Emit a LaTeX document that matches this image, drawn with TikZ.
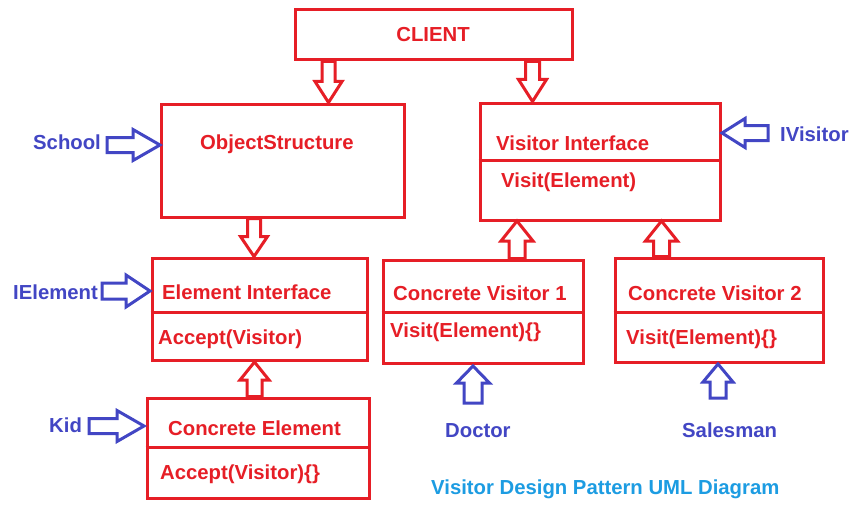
\documentclass[tikz,border=0pt]{standalone}
\usepackage{fontspec}
\setmainfont{Liberation Sans}
\usetikzlibrary{calc}
\definecolor{redc}{RGB}{230,30,38}
\definecolor{bluec}{RGB}{66,70,196}
\definecolor{capc}{RGB}{28,156,226}
\newcommand\blockarrow[6]{%
  \coordinate (ba-h) at ($(#3)!#6pt!(#2)$);
  \draw[#1] ($(#2)!#4pt!90:(#3)$) -- ($(ba-h)!#4pt!90:(#3)$) -- ($(ba-h)!#5pt!90:(#3)$) -- (#3)
    -- ($(ba-h)!#5pt!-90:(#3)$) -- ($(ba-h)!#4pt!-90:(#3)$) -- ($(#2)!#4pt!-90:(#3)$) -- cycle;
}
\begin{document}
\begin{tikzpicture}[x=1pt,y=-1pt,
  box/.style={draw=redc, line width=3pt, rectangle, inner sep=0pt},
  divline/.style={draw=redc, line width=3pt},
  ttl/.style={text=redc, font=\fontsize{20.3}{24}\selectfont\bfseries, inner sep=0pt, anchor=base west},
  lbl/.style={text=bluec, font=\fontsize{20.3}{24}\selectfont\bfseries, inner sep=0pt, anchor=base west},
  redarrow/.style={draw=redc, line width=3pt, line join=miter, fill=white},
  bluearrow/.style={draw=bluec, line width=3pt, line join=miter, fill=white}]
\useasboundingbox[fill=white] (0,0) rectangle (865,511);

% boxes
\node[box, minimum width=277pt, minimum height=50pt] (client) at (433.5,35) {};
\node[box, minimum width=243pt, minimum height=113pt] (os) at (282.5,160.5) {};
\node[box, minimum width=240pt, minimum height=117pt] (vi) at (600,161.5) {};
\node[box, minimum width=215pt, minimum height=102pt] (ei) at (259.5,309) {};
\node[box, minimum width=222pt, minimum height=100pt] (ce) at (258,448) {};
\node[box, minimum width=200pt, minimum height=103pt] (cv1) at (483,311.5) {};
\node[box, minimum width=208pt, minimum height=104pt] (cv2) at (719,310) {};

% dividers
\draw[divline] (vi.west |- 0,160) -- (vi.east |- 0,160);
\draw[divline] (ei.west |- 0,312) -- (ei.east |- 0,312);
\draw[divline] (ce.west |- 0,447) -- (ce.east |- 0,447);
\draw[divline] (cv1.west |- 0,312) -- (cv1.east |- 0,312);
\draw[divline] (cv2.west |- 0,312) -- (cv2.east |- 0,312);

% texts
\node[ttl, anchor=base] (t-client) at (433,42) {CLIENT};
\node[ttl] (t-os) at (200,149) {ObjectStructure};
\node[ttl] (t-vi) at (496,150) {Visitor Interface};
\node[ttl] (m-vi) at (501,187) {Visit(Element)};
\node[ttl] (t-ei) at (162,299) {Element Interface};
\node[ttl] (m-ei) at (158,344) {Accept(Visitor)};
\node[ttl] (t-ce) at (168,435) {Concrete Element};
\node[ttl] (m-ce) at (160,479) {Accept(Visitor)\{\}};
\node[ttl] (t-cv1) at (393,300) {Concrete Visitor 1};
\node[ttl] (m-cv1) at (390,337) {Visit(Element)\{\}};
\node[ttl] (t-cv2) at (628,300) {Concrete Visitor 2};
\node[ttl] (m-cv2) at (626,344) {Visit(Element)\{\}};

\node[lbl] (school) at (33,149) {School};
\node[lbl] (ielement) at (13,299) {IElement};
\node[lbl] (kid) at (49,432) {Kid};
\node[lbl] (ivisitor) at (780,141) {IVisitor};
\node[lbl] (doctor) at (445,437) {Doctor};
\node[lbl] (salesman) at (682,437) {Salesman};
\node[lbl, text=capc] (caption) at (431,494) {Visitor Design Pattern UML Diagram};

% arrow end points
\coordinate (a1s) at (client.south -| 328.5,0);
\coordinate (a1e) at (os.north -| 328.5,0);
\coordinate (a2s) at (client.south -| 532.5,0);
\coordinate (a2e) at (vi.north -| 532.5,0);
\coordinate (a3s) at (os.south -| 254,0);
\coordinate (a3e) at (ei.north -| 254,0);
\coordinate (a4s) at (ce.north -| 254.5,0);
\coordinate (a4e) at (254.5,362);
\coordinate (a5s) at (cv1.north -| 517,0);
\coordinate (a5e) at (517,221);
\coordinate (a6s) at (cv2.north -| 661.5,0);
\coordinate (a6e) at (661.5,221);

\coordinate (b1s) at (107,145);
\coordinate (b1e) at (160,145);
\coordinate (b2s) at (102,291);
\coordinate (b2e) at (150,291);
\coordinate (b3s) at (89,426);
\coordinate (b3e) at (144,426);
\coordinate (b4s) at (768,133);
\coordinate (b4e) at (722,133);
\coordinate (b5s) at (473,403);
\coordinate (b5e) at (473,366);
\coordinate (b6s) at (718,398);
\coordinate (b6e) at (718,364);

% red block arrows
\blockarrow{redarrow}{a1s}{a1e}{6.5}{13.5}{21}
\blockarrow{redarrow}{a2s}{a2e}{7}{14}{22}
\blockarrow{redarrow}{a3s}{a3e}{6.5}{13.5}{20}
\blockarrow{redarrow}{a4s}{a4e}{7.5}{14.5}{18}
\blockarrow{redarrow}{a5s}{a5e}{8}{16}{20}
\blockarrow{redarrow}{a6s}{a6e}{8}{16}{20}

% blue block arrows
\blockarrow{bluearrow}{b1s}{b1e}{7.5}{15.5}{27}
\blockarrow{bluearrow}{b2s}{b2e}{8}{16}{24}
\blockarrow{bluearrow}{b3s}{b3e}{7.5}{15.5}{27}
\blockarrow{bluearrow}{b4s}{b4e}{7.5}{14.5}{23}
\blockarrow{bluearrow}{b5s}{b5e}{9}{16.5}{17}
\blockarrow{bluearrow}{b6s}{b6e}{8}{15}{18}
\end{tikzpicture}
\end{document}
